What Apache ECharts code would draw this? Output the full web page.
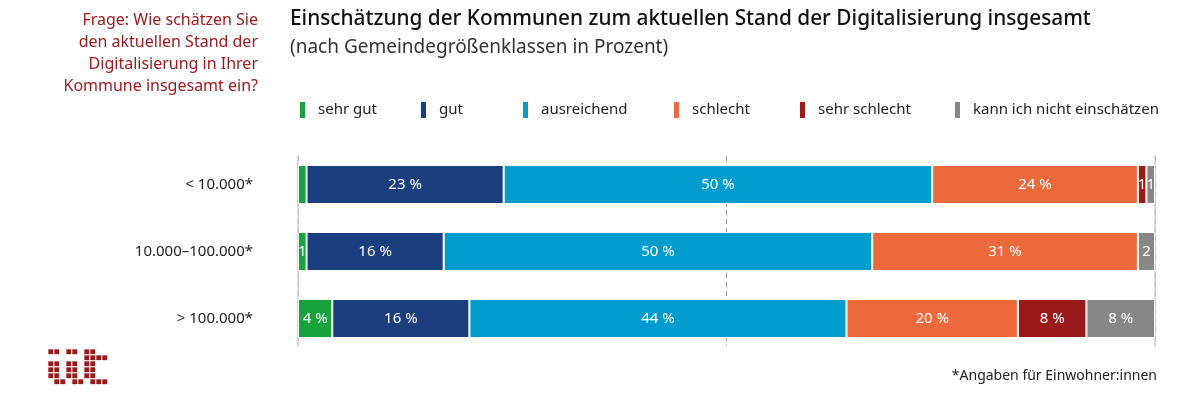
<!DOCTYPE html>
<html><head><meta charset="utf-8">
<script src="https://cdn.jsdelivr.net/npm/echarts@6/dist/echarts.min.js"></script>
<style>html,body{margin:0;padding:0;background:#fff}#c{width:1200px;height:404px}</style>
</head><body><div id="c"></div>
<script>
const categories = ['< 10.000*', '10.000–100.000*', '> 100.000*'];
const seriesNames = ['sehr gut', 'gut', 'ausreichend', 'schlecht', 'sehr schlecht', 'kann ich nicht einschätzen'];
const sehrGut = [1, 1, 4];
const gut = [23, 16, 16];
const ausreichend = [50, 50, 44];
const schlecht = [24, 31, 20];
const sehrSchlecht = [1, 0, 8];
const kannNicht = [1, 2, 8];
const showLabel = [[false, true, true], [true, true, true], [true, true, true], [true, true, true], [true, true, true], [true, true, true]];
const colors = ['#17a43c', '#1b3f7e', '#009ccd', '#eb693b', '#9b1a1a', '#878787'];
const xTicks = [0, 50, 100];

const FONT = 'Noto Sans';
const values = [sehrGut, gut, ausreichend, schlecht, sehrSchlecht, kannNicht];
const legendLefts = [298, 419, 521, 672, 798, 953];

const chart = echarts.init(document.getElementById('c'), null, {renderer: 'canvas'});

const series = values.map((arr, i) => ({
  name: seriesNames[i],
  type: 'bar',
  stack: 'all',
  xAxisIndex: 1,
  yAxisIndex: 2,
  barWidth: 39,
  z: 5,
  itemStyle: {color: colors[i], borderColor: '#ffffff', borderWidth: 1},
  label: {
    show: true, position: 'inside', color: '#ffffff', fontFamily: FONT, fontSize: 15,
    formatter: p => p.value <= 0 ? '' : (p.value < 3 ? String(p.value) : p.value + ' %')
  },
  data: arr.map((v, j) => showLabel[i][j] ? v : {value: v, label: {show: false}})
}));

// empty series so the reference-line grid renders
series.push({type: 'scatter', xAxisIndex: 0, yAxisIndex: 0, data: [], silent: true});

// logo (dot-matrix), decorative
const logoRows = [
  [0, 1, 3, 4, 6, 7],
  [6, 7, 8, 9],
  [0, 1, 3, 4, 6, 7],
  [0, 1, 3, 4, 6, 7],
  [0, 1, 3, 4, 6, 7],
  [1, 2, 4, 5, 7, 8, 9]
];
const logo = [];
logoRows.forEach((row, r) => row.forEach(c => {
  logo.push({type: 'rect', left: 48 + c * 6, top: 349 + r * 6, shape: {width: 4.5, height: 4.5},
    style: {fill: '#9b1a1a', stroke: 'rgba(155,26,26,0.35)', lineWidth: 1}});
}));

const option = {
  animation: false,
  textStyle: {fontFamily: FONT},
  color: colors,
  grid: [
    {left: 298, right: 45, top: 156, bottom: 58},
    {left: 298, right: 45, top: 151, bottom: 52}
  ],
  xAxis: [
    {gridIndex: 0, type: 'value', min: 0, max: 100, interval: 50, axisLabel: {show: false}, axisTick: {show: false}, axisLine: {show: false},
      splitLine: {show: true, lineStyle: {color: '#9a9a9a', type: [5, 4], width: 1}}},
    {gridIndex: 1, type: 'value', min: 0, max: 100, show: false, splitLine: {show: false}}
  ],
  yAxis: [
    {gridIndex: 0, type: 'value', min: 0, max: 1, position: 'left', axisLine: {show: true, lineStyle: {color: '#cdcdcd', width: 1.5}}, axisLabel: {show: false}, axisTick: {show: false}, splitLine: {show: false}},
    {gridIndex: 0, type: 'value', min: 0, max: 1, position: 'right', axisLine: {show: true, lineStyle: {color: '#cdcdcd', width: 1.5}}, axisLabel: {show: false}, axisTick: {show: false}, splitLine: {show: false}},
    {gridIndex: 1, type: 'category', data: categories, inverse: true, axisLine: {show: false}, axisTick: {show: false},
      axisLabel: {margin: 45, color: '#222', fontSize: 15, fontFamily: FONT}}
  ],
  legend: seriesNames.map((n, i) => ({
    data: [n], left: legendLefts[i], top: 100, icon: 'rect', itemWidth: 7, itemHeight: 18,
    selectedMode: false, padding: 0,
    textStyle: {color: '#222', fontSize: 15, fontFamily: FONT, padding: [0, 0, 0, 7]}
  })),
  graphic: [
    {type: 'text', right: 942, top: 9, style: {text: 'Frage: Wie schätzen Sie\nden aktuellen Stand der\nDigitalisierung in Ihrer\nKommune insgesamt ein?',
      fill: '#a01b1f', font: '16px "Noto Sans"', textAlign: 'right', lineHeight: 22}},
    {type: 'text', left: 290, top: 9, style: {text: 'Einschätzung der Kommunen zum aktuellen Stand der Digitalisierung insgesamt',
      fill: '#111', font: '500 20.8px "Noto Sans"'}},
    {type: 'text', left: 290, top: 38, style: {text: '(nach Gemeindegrößenklassen in Prozent)',
      fill: '#333', font: '19px "Noto Sans"'}},
    {type: 'text', right: 43, top: 369, style: {text: '*Angaben für Einwohner:innen',
      fill: '#222', font: '14px "Noto Sans"'}}
  ].concat(logo),
  series: series
};
chart.setOption(option);
</script>
</body></html>
